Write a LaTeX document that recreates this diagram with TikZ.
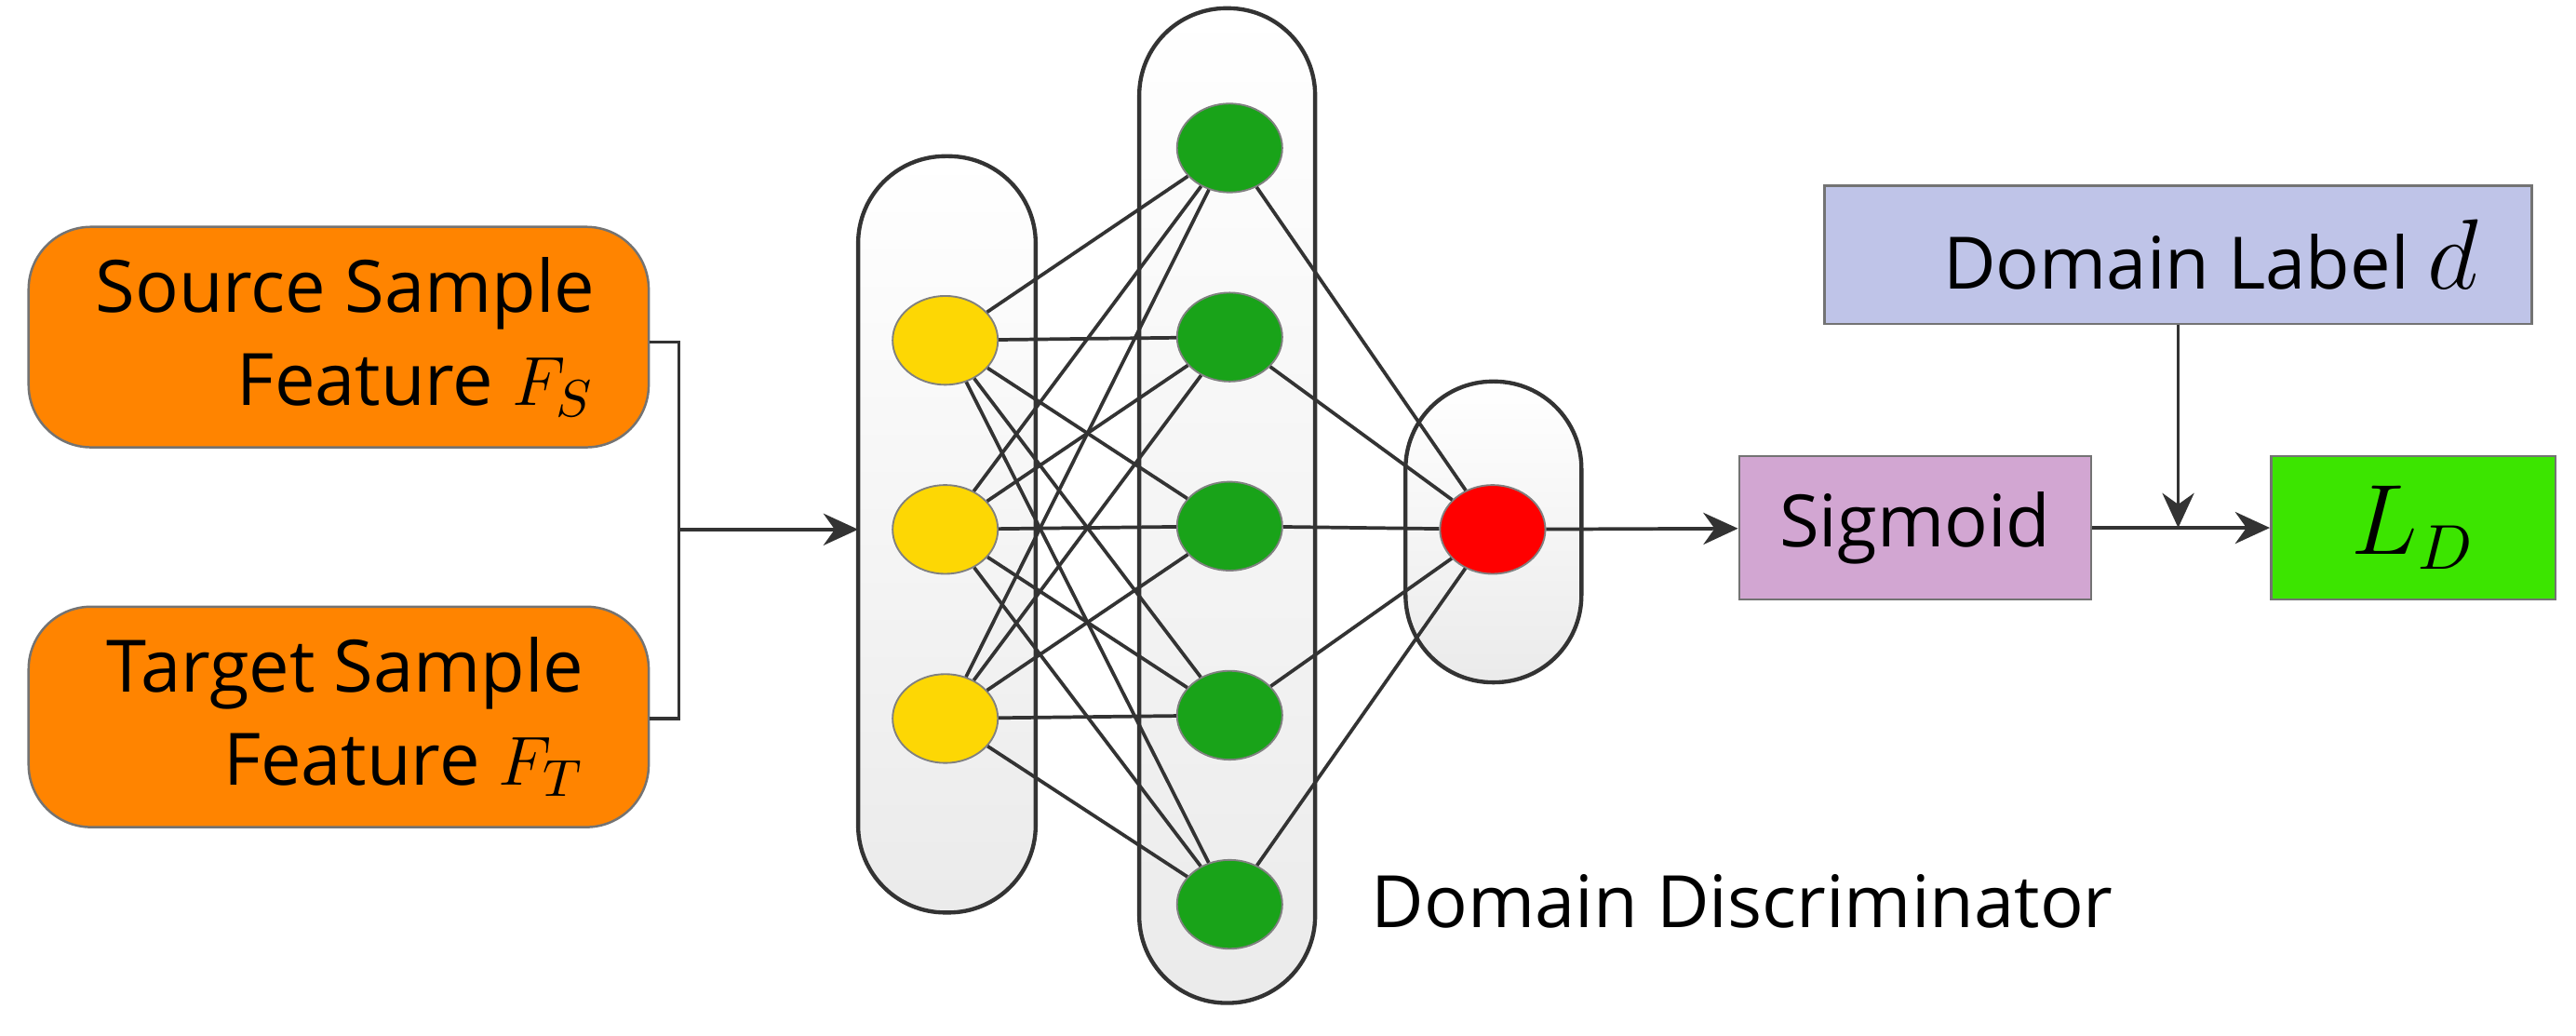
\documentclass[tikz,border=0pt]{standalone}
\usepackage{fontspec}
\setmainfont{Open Sans}
\usetikzlibrary{shapes.geometric,arrows.meta}
\begin{document}
\begin{tikzpicture}[x=0.01cm,y=-0.01cm,
 box/.style={draw=black!55,line width=0.4pt,inner sep=0},
 pill/.style={draw=black!80,line width=0.7pt,rounded corners=0.53cm,top color=white,bottom color=black!8},
 neu/.style={ellipse,draw=black!50,line width=0.3pt,minimum width=0.64cm,minimum height=0.54cm,inner sep=0},
 con/.style={draw=black!80,line width=0.6pt},
 arr/.style={con,-{Stealth[length=6pt,width=5.5pt]}},
 font=\fontsize{12.5}{16}\selectfont]
\useasboundingbox (0,0) rectangle (1567,630);
\node[box,rounded corners=0.38cm,fill=orange!85!yellow!90!red,minimum width=3.77cm,minimum height=1.34cm] (src) at (206,205) {};
\node[align=right] at (210,205) {Source Sample\\Feature $F_S$};
\node[box,rounded corners=0.38cm,fill=orange!85!yellow!90!red,minimum width=3.77cm,minimum height=1.34cm] (tgt) at (206,436) {};
\node[align=right] at (210,436) {Target Sample\\Feature $F_T$};
\draw[pill] (522,95) rectangle (630,555);
\draw[pill] (693,5) rectangle (800,610);
\draw[pill] (855,232) rectangle (962,415);
\foreach \i/\y in {1/207,2/322,3/437} \node[neu,fill=yellow!75!orange] (y\i) at (575,\y) {};
\foreach \i/\y in {1/90,2/205,3/320,4/435,5/550} \node[neu,fill=green!60!black!90] (g\i) at (748,\y) {};
\node[neu,fill=red] (r) at (908,322) {};
\foreach \i in {1,2,3} \foreach \j in {1,...,5} \draw[con] (y\i) -- (g\j);
\foreach \j in {1,...,5} \draw[con] (g\j) -- (r);
\coordinate (m1) at (413,208); \coordinate (m2) at (413,437); \coordinate (m) at (413,322);
\coordinate (l1) at (522,322);
\draw[con] (src.east|-m1) -- (m1) -- (m2) -- (tgt.east|-m2);
\draw[arr] (m) -- (l1);
\node[box,fill=violet!35!white,minimum width=2.14cm,minimum height=0.87cm] (sig) at (1165,321) {Sigmoid};
\node[box,fill=green!65!lime!90!black,minimum width=1.73cm,minimum height=0.87cm] (ld) at (1468,321) {\fontsize{16}{18}\selectfont$L_D$};
\node[box,fill=cyan!30!blue!25!white,minimum width=4.3cm,minimum height=0.84cm] (dl) at (1325,155) {};
\node at (1345,155) {Domain Label \fontsize{16}{18}\selectfont$d$};
\draw[arr] (r) -- (sig);
\draw[arr] (sig) -- (ld);
\coordinate (j) at (1325,321);
\draw[arr] (dl) -- (j);
\node[anchor=west] at (822,548) {Domain Discriminator};
\end{tikzpicture}
\end{document}
